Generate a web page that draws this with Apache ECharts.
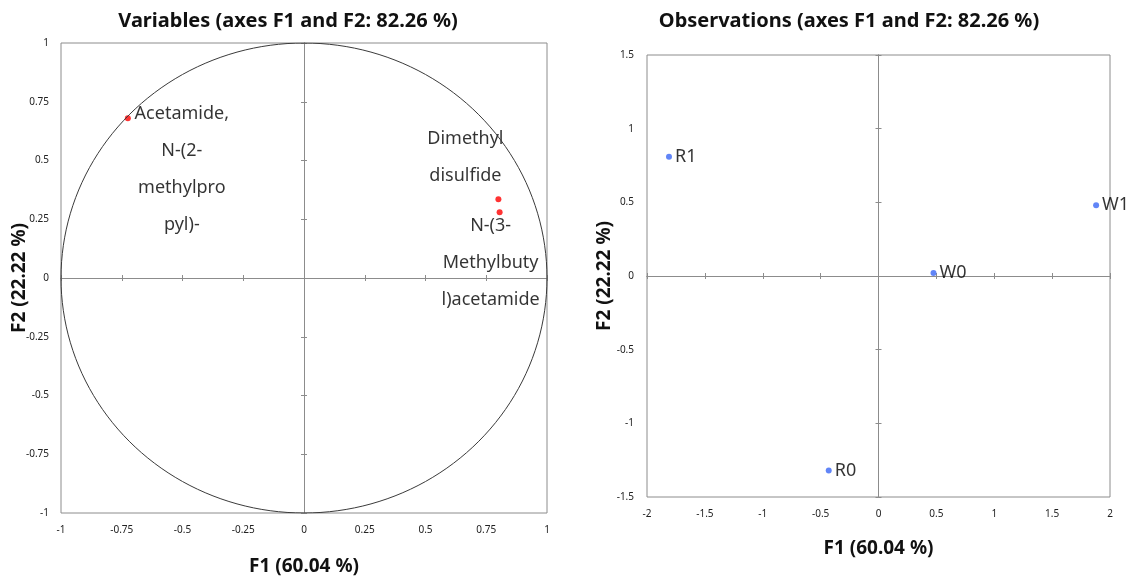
<!DOCTYPE html>
<html>
<head>
<meta charset="utf-8">
<script src="https://cdn.jsdelivr.net/npm/echarts@6/dist/echarts.min.js"></script>
<style>
  html, body { margin: 0; padding: 0; background: #fff; }
  #chart { width: 1128px; height: 581px; }
</style>
</head>
<body>
<div id="chart"></div>
<script>
// Variables (correlation circle)
const varNames = [
  'Acetamide,\nN-(2-\nmethylpro\npyl)-',
  'Dimethyl\ndisulfide',
  'N-(3-\nMethylbuty\nl)acetamide',
]
const varF1 = [-0.725, 0.80, 0.805]
const varF2 = [0.68, 0.335, 0.28]

// Observations
const obsNames = ['R1', 'W1', 'W0', 'R0']
const obsF1 = [-1.81, 1.88, 0.475, -0.43]
const obsF2 = [0.81, 0.48, 0.02, -1.32]

const titleVar = 'Variables (axes F1 and F2: 82.26 %)'
const titleObs = 'Observations (axes F1 and F2: 82.26 %)'
const nameF1 = 'F1 (60.04 %)'
const nameF2 = 'F2 (22.22 %)'

const font = 'Noto Sans'
const gray = '#8c8c8c'

// unit circle, drawn through the axes
const circle = []
for (let i = 0; i <= 360; i += 2) {
  const a = (i * Math.PI) / 180
  circle.push([Math.cos(a), Math.sin(a)])
}

function axesFor(dim, grid, min, max, interval, name, nameGap, labelMargin) {
  const isX = dim === 'x'
  const common = { type: 'value', gridIndex: grid, min, max, interval, splitLine: { show: false } }
  return [
    Object.assign({}, common, {
      position: isX ? 'bottom' : 'left',
      axisLine: { show: false, onZero: false },
      axisTick: { show: false },
      axisLabel: { fontFamily: font, fontSize: 10, color: '#222', margin: labelMargin },
      name,
      nameLocation: 'middle',
      nameGap,
      nameMoveOverlap: false,
      nameRotate: isX ? 0 : 90,
      nameTextStyle: { fontFamily: font, fontSize: 19, fontWeight: 'bold', color: '#111' },
    }),
    Object.assign({}, common, {
      position: isX ? 'bottom' : 'left',
      axisLine: { show: true, onZero: true, lineStyle: { color: gray, width: 1 } },
      axisTick: { show: true, length: 3, lineStyle: { color: gray } },
      axisLabel: { show: false },
    }),
    Object.assign({}, common, {
      position: isX ? 'top' : 'right',
      axisLine: { show: true, onZero: true, lineStyle: { color: gray, width: 1 } },
      axisTick: { show: true, length: 3, lineStyle: { color: gray } },
      axisLabel: { show: false },
    }),
  ]
}

const varLabelPos = [[57, -20], [-30, -76], [-6, -2]]

const titleStyle = { fontFamily: font, fontSize: 20, fontWeight: 'bold', color: '#111' }

const option = {
  animation: false,
  backgroundColor: '#fff',
  title: [
    { text: titleVar, left: 283, top: 6, textAlign: 'center', textStyle: titleStyle },
    { text: titleObs, left: 844, top: 6, textAlign: 'center', textStyle: titleStyle },
  ],
  grid: [
    { left: 61, top: 43, width: 486, height: 470, show: true, borderColor: gray, borderWidth: 1 },
    { left: 647, top: 55, width: 463, height: 442, show: true, borderColor: gray, borderWidth: 1 },
  ],
  xAxis: [
    ...axesFor('x', 0, -1, 1, 0.25, nameF1, 44, 12),
    ...axesFor('x', 1, -2, 2, 0.5, nameF1, 42, 12),
  ],
  yAxis: [
    ...axesFor('y', 0, -1, 1, 0.25, nameF2, 32, 12),
    ...axesFor('y', 1, -1.5, 1.5, 0.5, nameF2, 33, 13),
  ],
  series: [
    {
      type: 'line',
      xAxisIndex: 0,
      yAxisIndex: 0,
      data: circle,
      showSymbol: false,
      symbol: 'none',
      silent: true,
      lineStyle: { color: '#3a3a3a', width: 1 },
    },
    {
      type: 'scatter',
      xAxisIndex: 0,
      yAxisIndex: 0,
      symbolSize: 6,
      itemStyle: { color: '#ff0000' },
      data: varNames.map((n, i) => ({
        name: n,
        value: [varF1[i], varF2[i]],
        label: { position: varLabelPos[i] },
      })),
      label: {
        show: true,
        formatter: '{b}',
        align: 'center',
        verticalAlign: 'top',
        fontFamily: font,
        fontSize: 18,
        lineHeight: 37,
        color: '#000',
      },
    },
    {
      type: 'scatter',
      xAxisIndex: 3,
      yAxisIndex: 3,
      symbolSize: 6,
      itemStyle: { color: '#3a66f5' },
      data: obsNames.map((n, i) => ({ name: n, value: [obsF1[i], obsF2[i]] })),
      label: {
        show: true,
        formatter: '{b}',
        position: 'right',
        distance: 3,
        fontFamily: font,
        fontSize: 18,
        color: '#000',
      },
    },
  ],
}

const chart = echarts.init(document.getElementById('chart'))
chart.setOption(option)
</script>
</body>
</html>
